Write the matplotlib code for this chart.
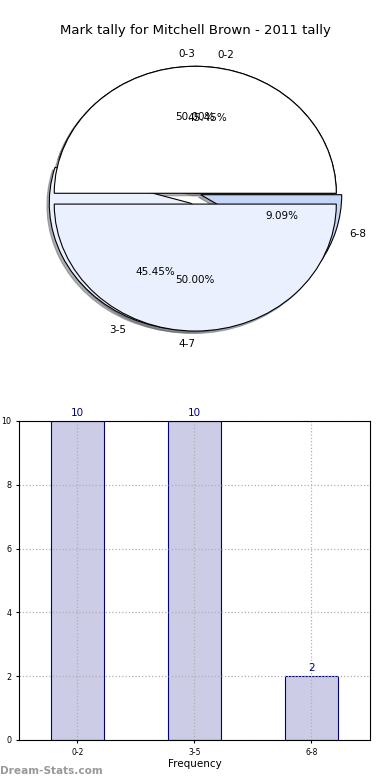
import matplotlib.pyplot as plt

title = "Mark tally for Mitchell Brown - 2011 tally"

# pie 1: coarse ranges
coarse_labels = ['0-3', '4-7']
coarse_values = [11, 11]

# pie 2 / bars: fine ranges
fine_labels = ['0-2', '3-5', '6-8']
fine_values = [10, 10, 2]

pie_colors = ['#ffffff', '#ebf0fe', '#c6d6f6']
shadow_style = {'ox': -0.012, 'oy': -0.014, 'shade': 0.6}

fig = plt.figure(figsize=(3.9, 7.8), dpi=100)
fig.text(0.5, 0.961, title, ha='center', va='center', fontsize=9.5)

ax1 = fig.add_axes([0.0487, 0.5487, 0.904, 0.407])
ax1.pie(fine_values, labels=fine_labels, colors=pie_colors,
        explode=(0, 0.085, 0.04), autopct='%1.2f%%', shadow=shadow_style,
        wedgeprops={'edgecolor': 'black', 'linewidth': 0.8},
        textprops={'fontsize': 7.5})
_, coarse_texts, _ = ax1.pie(coarse_values, labels=coarse_labels,
                             colors=pie_colors[:2], explode=(0, 0.085),
                             autopct='%1.2f%%', shadow=shadow_style,
                             wedgeprops={'edgecolor': 'black', 'linewidth': 0.8},
                             textprops={'fontsize': 7.5})
coarse_texts[1].set_ha('right')
ax1.set_aspect('auto')
ax1.set_xlim(-1.25, 1.25)
ax1.set_ylim(-1.25, 1.25)

ax2 = fig.add_axes([0.0487, 0.0513, 0.9, 0.409])
x = range(len(fine_labels))
ax2.bar(x, fine_values, width=0.45, color='#ccccE6',
        edgecolor='navy', linewidth=0.8, zorder=2)
for xi, v in zip(x, fine_values):
    ax2.text(xi, v + 0.1, str(v), ha='center', va='bottom',
             color='navy', fontsize=7.5)
ax2.set_xlim(-0.5, 2.5)
ax2.set_ylim(0, 10)
ax2.set_xticks(list(x))
ax2.set_xticklabels(fine_labels, fontsize=5.5)
ax2.set_yticks([0, 2, 4, 6, 8, 10])
ax2.tick_params(axis='y', labelsize=5.8, length=2)
ax2.tick_params(axis='x', length=2)
ax2.grid(True, linestyle=':', color='#b0b0b0', linewidth=0.9, zorder=3)
ax2.set_axisbelow(False)
for sp in ax2.spines.values():
    sp.set_zorder(4)
ax2.set_xlabel('Frequency', fontsize=7.5, labelpad=2)

# y label sits mostly outside the figure, as in the original
fig.text(-0.006, 0.26, 'Student Count', rotation=90, ha='center',
         va='center', fontsize=6.5)

fig.text(0.0, 0.012, 'Dream-Stats.com', ha='left', va='center',
         fontsize=7.6, color='#999999', fontweight='bold')

fig.savefig('out.png', dpi=100)
